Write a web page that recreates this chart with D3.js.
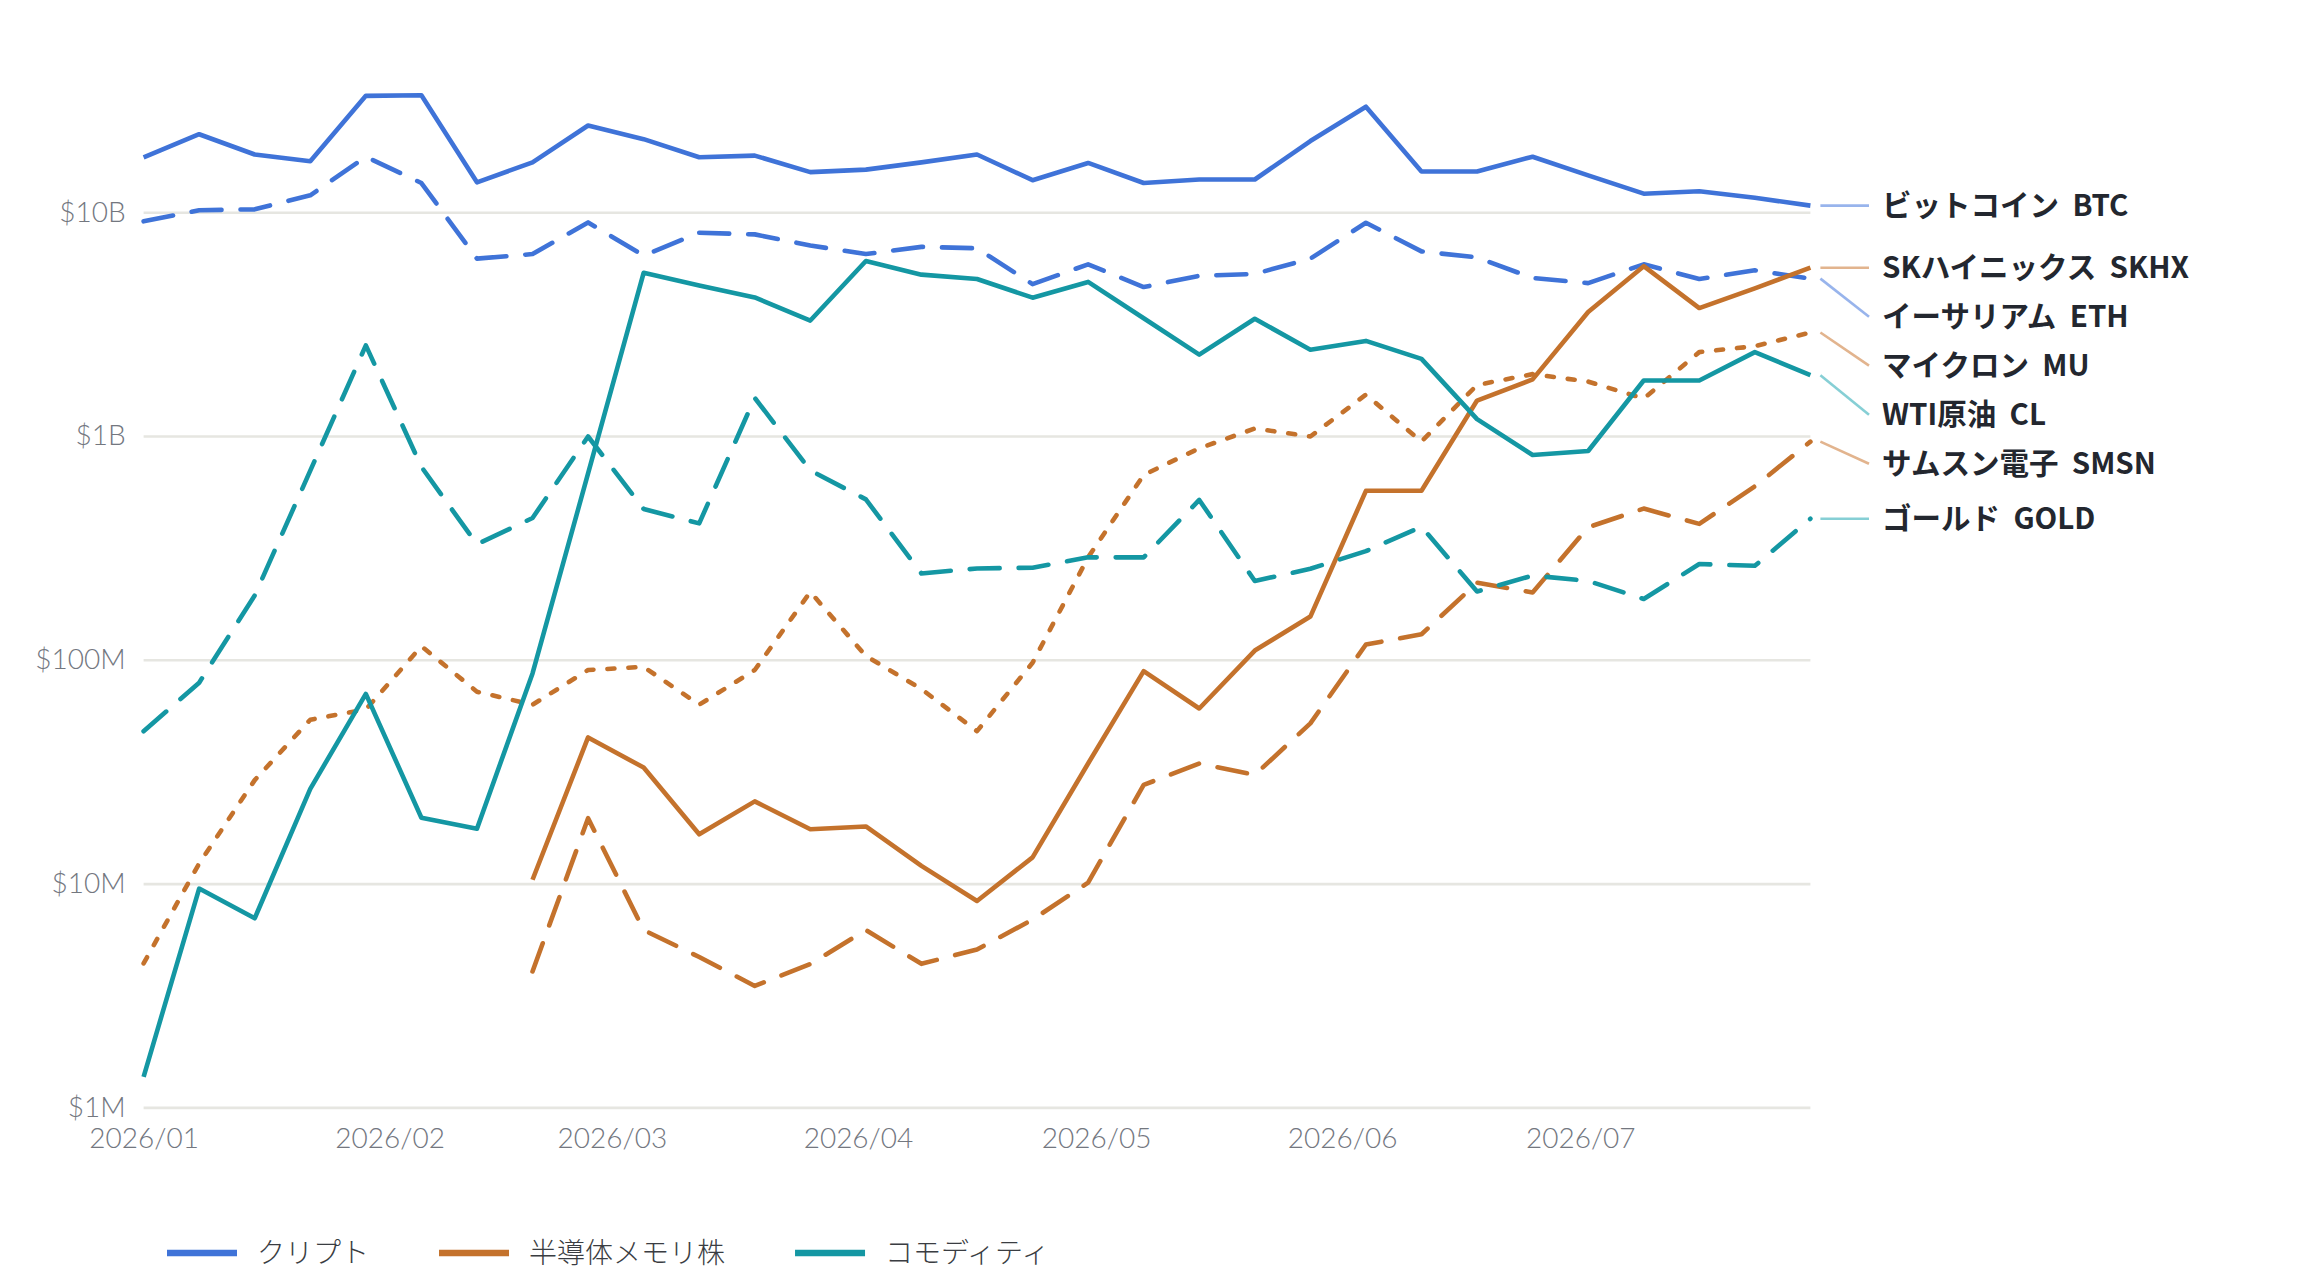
<!DOCTYPE html>
<html>
<head>
<meta charset="utf-8">
<script src="https://cdn.jsdelivr.net/npm/d3@7"></script>
<style>
  body { margin: 0; background: #fff; }
  svg { display: block; }
  .lbl { white-space: pre; }
</style>
</head>
<body>
<script>
// weekly observation dates
var dates = ["2026-01-01","2026-01-08","2026-01-15","2026-01-22","2026-01-29","2026-02-05","2026-02-12","2026-02-19",
  "2026-02-26","2026-03-05","2026-03-12","2026-03-19","2026-03-26","2026-04-02","2026-04-09","2026-04-16",
  "2026-04-23","2026-04-30","2026-05-07","2026-05-14","2026-05-21","2026-05-28","2026-06-04","2026-06-11",
  "2026-06-18","2026-06-25","2026-07-02","2026-07-09","2026-07-16","2026-07-23","2026-07-30"];

// values in $M
var btc = [17600,22300,18100,16900,33100,33300,13600,16700,24400,21200,17600,17900,15100,15500,16700,18100,
  13900,16600,13500,14000,14000,20800,29600,15200,15200,17700,14600,12100,12400,11600,10700];
var eth = [9100,10200,10300,11900,17700,13500,6200,6500,9000,6400,8100,7960,7100,6500,7000,6900,
  4770,5850,4630,5200,5300,6200,8970,6680,6280,5080,4820,5850,5030,5500,5050];
var skhx = [null,null,null,null,null,null,null,10.4,45,33,16.6,23.3,17.5,18,12,8.36,
  13.1,34.4,89,60.6,110,156,569,569,1440,1790,3580,5740,3730,4570,5650];
var smsn = [null,null,null,null,null,null,null,4.05,19.6,6.2,4.7,3.49,4.37,6.2,4.38,5.08,
  6.9,10.1,27.6,34.4,30.6,52,117,130,221,200,391,474,405,596,944];
var mu = [4.4,12.3,29,54,60,115,72,63,90,93,63,90,201,104,74,48,
  97,287,670,881,1080,995,1530,944,1690,1890,1750,1470,2370,2520,2900];
var wti = [1.37,9.5,7.0,26.5,70.4,19.7,17.6,86.9,680,5360,4700,4160,3280,6050,5260,5030,
  4150,4880,3360,2310,3340,2430,2660,2210,1190,822,857,1770,1770,2370,1870];
var gold = [47.9,79,194,700,2540,728,328,430,995,472,407,1480,702,521,243,256,
  258,287,287,518,225,255,306,393,202,238,225,187,268,263,427];

var groups = ["クリプト","半導体メモリ株","コモディティ"];
var groupColors = ["#3f73d8","#c4722c","#1497a3"];
var leaderColors = ["#98b4ec","#e2b48e","#86cfd5"];

var series = [
  {name: "ビットコイン  BTC", values: btc, group: 0, style: "solid"},
  {name: "イーサリアム  ETH", values: eth, group: 0, style: "dash"},
  {name: "SKハイニックス  SKHX", values: skhx, group: 1, style: "solid"},
  {name: "サムスン電子  SMSN", values: smsn, group: 1, style: "dash"},
  {name: "マイクロン  MU", values: mu, group: 1, style: "dot"},
  {name: "WTI原油  CL", values: wti, group: 2, style: "solid"},
  {name: "ゴールド  GOLD", values: gold, group: 2, style: "dash"}
];

var yTicks = [1, 10, 100, 1000, 10000];
var yTickLabels = ["$1M","$10M","$100M","$1B","$10B"];
var xTicks = ["2026-01-01","2026-02-01","2026-03-01","2026-04-01","2026-05-01","2026-06-01","2026-07-01"];
var xTickLabels = ["2026/01","2026/02","2026/03","2026/04","2026/05","2026/06","2026/07"];

var W = 2320, H = 1280;
var plotLeft = 143.6, plotRight = 1810.4;
var parse = d3.utcParse("%Y-%m-%d");

var xScale = d3.scaleUtc().domain([parse(dates[0]), parse(dates[dates.length - 1])]).range([plotLeft, plotRight]);
var yScale = d3.scaleLog().domain([1, 10000]).range([1107.4, 212.2]);

var dashes = {solid: null, dash: "30,19", dot: "7,14"};
var axisFont = "Lato, 'Open Sans', 'Noto Sans', sans-serif";
var jpFont = "'Noto Sans CJK JP', 'Noto Sans', sans-serif";

var svg = d3.select("body").append("svg")
  .attr("width", W)
  .attr("height", H);

// y axis: gridlines + labels
var yAxis = d3.axisLeft(yScale)
  .tickValues(yTicks)
  .tickSize(-(plotRight - plotLeft))
  .tickPadding(18)
  .tickFormat(function(d, i) { return yTickLabels[i]; });

var yAxisGroup = svg.append("g")
  .attr("transform", "translate(" + plotLeft + ",0)")
  .call(yAxis);
yAxisGroup.select(".domain").remove();
yAxisGroup.selectAll(".tick line").attr("stroke", "#e6e6e1").attr("stroke-width", 2.6);
yAxisGroup.selectAll(".tick text")
  .attr("fill", "#73777f")
  .attr("font-family", axisFont)
  .attr("font-weight", 300)
  .attr("font-size", 28);

// x axis labels
var xAxis = d3.axisBottom(xScale)
  .tickValues(xTicks.map(parse))
  .tickSize(0)
  .tickPadding(15)
  .tickFormat(function(d, i) { return xTickLabels[i]; });

var xAxisGroup = svg.append("g")
  .attr("transform", "translate(0,1113)")
  .call(xAxis);
xAxisGroup.select(".domain").remove();
xAxisGroup.selectAll(".tick text")
  .attr("fill", "#73777f")
  .attr("font-family", axisFont)
  .attr("font-weight", 300)
  .attr("font-size", 28);

// lines
var line = d3.line()
  .defined(function(d) { return d.v != null; })
  .x(function(d) { return xScale(d.date); })
  .y(function(d) { return yScale(d.v); });

series.forEach(function(s) {
  s.points = s.values.map(function(v, i) { return {date: parse(dates[i]), v: v}; });
  svg.append("path")
    .datum(s.points)
    .attr("fill", "none")
    .attr("stroke", groupColors[s.group])
    .attr("stroke-width", 4.6)
    .attr("stroke-linejoin", "round")
    .attr("stroke-linecap", s.style == "solid" ? "butt" : "round")
    .attr("stroke-dasharray", dashes[s.style])
    .attr("d", line);
});

// end labels with simple dodge
var ends = series.map(function(s) {
  var last = s.points[s.points.length - 1];
  return {s: s, x: xScale(last.date), y: yScale(last.v)};
}).sort(function(a, b) { return a.y - b.y; });

var gap = 49;
ends.forEach(function(e, i) {
  e.ly = e.y;
  if (i > 0 && e.ly < ends[i - 1].ly + gap) e.ly = ends[i - 1].ly + gap;
});

var labels = svg.append("g");
ends.forEach(function(e) {
  labels.append("line")
    .attr("x1", e.x + 10).attr("y1", e.y)
    .attr("x2", 1869).attr("y2", e.ly)
    .attr("stroke", leaderColors[e.s.group])
    .attr("stroke-width", 2.6);
  labels.append("text")
    .attr("class", "lbl")
    .attr("x", 1882)
    .attr("y", e.ly)
    .attr("dy", "0.35em")
    .attr("fill", "#23272f")
    .attr("font-family", jpFont)
    .attr("font-weight", 700)
    .attr("font-size", 29.5)
    .text(e.s.name);
});

// legend
var legend = svg.append("g").attr("transform", "translate(167,1253)");
var lx = 0;
groups.forEach(function(g, i) {
  legend.append("line")
    .attr("x1", lx).attr("x2", lx + 70)
    .attr("y1", 0).attr("y2", 0)
    .attr("stroke", groupColors[i])
    .attr("stroke-width", 6.5);
  var t = legend.append("text")
    .attr("x", lx + 90)
    .attr("y", 0)
    .attr("dy", "0.35em")
    .attr("fill", "#3a3d42")
    .attr("font-family", jpFont)
    .attr("font-weight", 300)
    .attr("font-size", 28)
    .text(g);
  lx = lx + 90 + t.node().getComputedTextLength() + 70;
});
</script>
</body>
</html>
